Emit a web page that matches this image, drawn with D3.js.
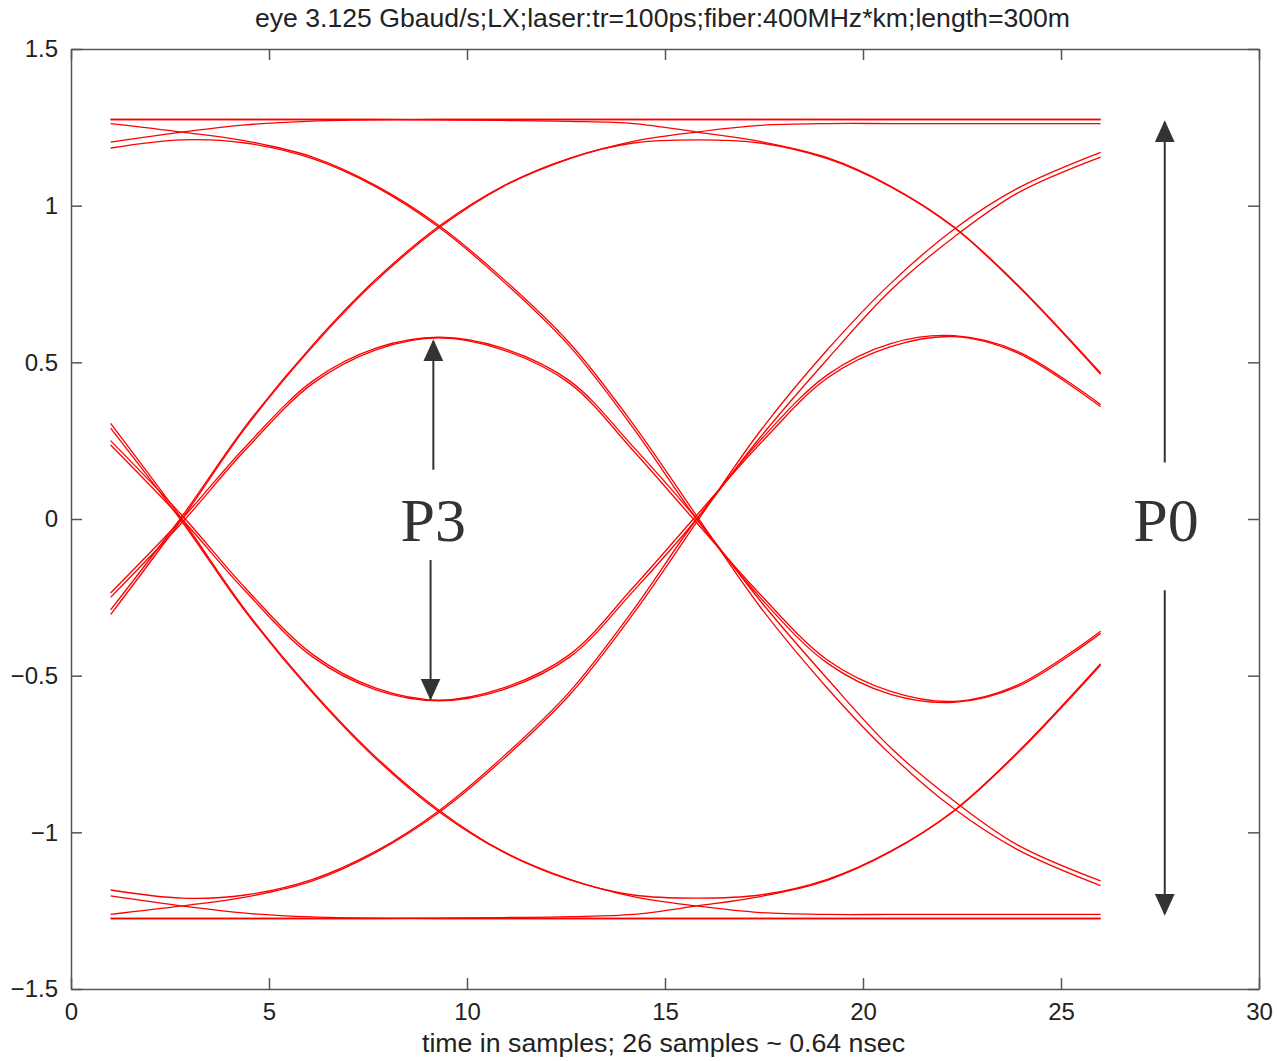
<!DOCTYPE html>
<html>
<head>
<meta charset="utf-8">
<script src="https://cdn.jsdelivr.net/npm/d3@7"></script>
<style>
  body { margin: 0; background: #fff; }
  svg { display: block; }
  .tick text { font-family: "Liberation Sans", Arial, sans-serif; }
</style>
</head>
<body>
<div id="eye"></div>
<script>
/* eye diagram, 3.125 Gbaud, traces */

// sample instants (x) shared by every trace
const samples = [1, 2.8, 4.4, 6.1, 7.7, 9.3, 10.9, 12.6, 14.2, 15.8, 17.4, 19.1, 20.7, 22.3, 23.9, 26];

// upper traces
const t1 = [1.275, 1.275, 1.275, 1.275, 1.275, 1.275, 1.275, 1.275, 1.275, 1.275, 1.275, 1.275, 1.275, 1.275, 1.275, 1.275];
const t2 = [1.275, 1.275, 1.275, 1.275, 1.275, 1.274, 1.272, 1.269, 1.262, 1.235, 1.205, 1.153, 1.062, 0.932, 0.748, 0.466];
const t3 = [-0.305, 0, 0.29, 0.55, 0.76, 0.93, 1.06, 1.15, 1.205, 1.235, 1.256, 1.262, 1.262, 1.262, 1.262, 1.262];
const t4 = [-0.29, 0.008, 0.295, 0.555, 0.765, 0.935, 1.062, 1.152, 1.2, 1.21, 1.2, 1.15, 1.06, 0.93, 0.745, 0.462];
const t5 = [1.203, 1.235, 1.258, 1.27, 1.274, 1.275, 1.275, 1.275, 1.275, 1.275, 1.275, 1.275, 1.275, 1.275, 1.275, 1.275];
const t6 = [1.262, 1.235, 1.207, 1.155, 1.064, 0.936, 0.768, 0.56, 0.302, 0.01, -0.28, -0.54, -0.752, -0.925, -1.055, -1.17];
const t7 = [1.184, 1.21, 1.2, 1.15, 1.06, 0.93, 0.76, 0.55, 0.29, 0, -0.25, -0.46, -0.56, -0.585, -0.535, -0.365];
const t8 = [-0.236, 0, 0.23, 0.44, 0.545, 0.58, 0.545, 0.44, 0.23, 0, -0.26, -0.51, -0.73, -0.9, -1.04, -1.155];
const t9 = [-0.25, -0.012, 0.22, 0.432, 0.54, 0.578, 0.54, 0.432, 0.218, -0.012, -0.24, -0.45, -0.55, -0.582, -0.53, -0.358];

// lower traces
const b1 = [-1.275, -1.275, -1.275, -1.275, -1.275, -1.275, -1.275, -1.275, -1.275, -1.275, -1.275, -1.275, -1.275, -1.275, -1.275, -1.275];
const b2 = [-1.275, -1.275, -1.275, -1.275, -1.275, -1.274, -1.272, -1.269, -1.262, -1.235, -1.205, -1.153, -1.062, -0.932, -0.748, -0.466];
const b3 = [0.305, 0, -0.29, -0.55, -0.76, -0.93, -1.06, -1.15, -1.205, -1.235, -1.256, -1.262, -1.262, -1.262, -1.262, -1.262];
const b4 = [0.29, -0.008, -0.295, -0.555, -0.765, -0.935, -1.062, -1.152, -1.2, -1.21, -1.2, -1.15, -1.06, -0.93, -0.745, -0.462];
const b5 = [-1.203, -1.235, -1.258, -1.27, -1.274, -1.275, -1.275, -1.275, -1.275, -1.275, -1.275, -1.275, -1.275, -1.275, -1.275, -1.275];
const b6 = [-1.262, -1.235, -1.207, -1.155, -1.064, -0.936, -0.768, -0.56, -0.302, -0.01, 0.28, 0.54, 0.752, 0.925, 1.055, 1.17];
const b7 = [-1.184, -1.21, -1.2, -1.15, -1.06, -0.93, -0.76, -0.55, -0.29, 0, 0.25, 0.46, 0.56, 0.585, 0.535, 0.365];
const b8 = [0.236, 0, -0.23, -0.44, -0.545, -0.58, -0.545, -0.44, -0.23, 0, 0.26, 0.51, 0.73, 0.9, 1.04, 1.155];
const b9 = [0.25, 0.012, -0.22, -0.432, -0.54, -0.578, -0.54, -0.432, -0.218, 0.012, 0.24, 0.45, 0.55, 0.582, 0.53, 0.358];

const traces = [t1, t2, t3, t4, t5, t6, t7, t8, t9, b1, b2, b3, b4, b5, b6, b7, b8, b9];

// axes
const xTicks = [0, 5, 10, 15, 20, 25, 30];
const yTicks = [-1.5, -1, -0.5, 0, 0.5, 1, 1.5];
const yTickLabels = ["\u22121.5", "\u22121", "\u22120.5", "0", "0.5", "1", "1.5"];

// annotation arrows: [x, yTip, yTail] in data units
const p3Arrows = [[9.15, 0.567, 0.157], [9.08, -0.573, -0.131]];
const p0Arrows = [[27.62, 1.266, 0.18], [27.62, -1.26, -0.227]];
const p3Label = { text: "P3", x: 9.15, y: 0 };
const p0Label = { text: "P0", x: 27.65, y: 0 };

const titleText = "eye 3.125 Gbaud/s;LX;laser:tr=100ps;fiber:400MHz*km;length=300m";
const xLabelText = "time in samples; 26 samples ~ 0.64 nsec";

const width = 1277,
      height = 1061,
      margin = ({ top: 49, right: 18, bottom: 72, left: 71 });

const svg = d3.select("#eye")
    .append("svg")
    .attr("width", width)
    .attr("height", height)
    .attr("viewBox", [0, 0, width, height]);

const x = d3.scaleLinear()
    .domain([0, 30])
    .range([margin.left, width - margin.right]);

const y = d3.scaleLinear()
    .domain([-1.5, 1.5])
    .range([height - margin.bottom, margin.top]);

// traces first, frame on top
const line = d3.line()
    .x((d, i) => x(samples[i]))
    .y(d => y(d))
    .curve(d3.curveCatmullRom.alpha(0.5));

svg.append("g")
    .selectAll("path")
    .data(traces)
    .join("path")
    .attr("d", line)
    .attr("fill", "none")
    .attr("stroke", "#ff0000")
    .attr("stroke-width", 1.3);

// box with inward ticks on all sides
const tick = 11;
const fmtY = d => yTickLabels[yTicks.indexOf(d)];

const gx = svg.append("g")
    .attr("transform", `translate(0,${height - margin.bottom})`)
    .call(d3.axisBottom(x).tickValues(xTicks).tickSizeInner(-tick).tickSizeOuter(0).tickPadding(14));
svg.append("g")
    .attr("transform", `translate(0,${margin.top})`)
    .call(d3.axisTop(x).tickValues(xTicks).tickSizeInner(-tick).tickSizeOuter(0).tickFormat(""));
const gy = svg.append("g")
    .attr("transform", `translate(${margin.left},0)`)
    .call(d3.axisLeft(y).tickValues(yTicks).tickFormat(fmtY).tickSizeInner(-tick).tickSizeOuter(0).tickPadding(13));
svg.append("g")
    .attr("transform", `translate(${width - margin.right},0)`)
    .call(d3.axisRight(y).tickValues(yTicks).tickSizeInner(-tick).tickSizeOuter(0).tickFormat(""));

svg.selectAll(".domain, .tick line")
    .attr("stroke", "#555")
    .attr("stroke-width", 1.5);

gx.selectAll(".tick text").attr("font-size", 24).attr("fill", "#222");
gy.selectAll(".tick text").attr("font-size", 24).attr("fill", "#222");

svg.append("text")
    .attr("x", 255)
    .attr("y", 27)
    .attr("textLength", 815)
    .attr("lengthAdjust", "spacingAndGlyphs")
    .attr("font-family", "Liberation Sans, Arial, sans-serif")
    .attr("font-size", 25)
    .attr("fill", "#222")
    .text(titleText);

svg.append("text")
    .attr("x", 422)
    .attr("y", 1052)
    .attr("textLength", 483)
    .attr("lengthAdjust", "spacingAndGlyphs")
    .attr("font-family", "Liberation Sans, Arial, sans-serif")
    .attr("font-size", 25)
    .attr("fill", "#222")
    .text(xLabelText);

// arrows
const defs = svg.append("defs");
defs.append("marker")
    .attr("id", "head")
    .attr("viewBox", "0 0 22 20")
    .attr("refX", 20)
    .attr("refY", 10)
    .attr("markerUnits", "userSpaceOnUse")
    .attr("markerWidth", 22)
    .attr("markerHeight", 20)
    .attr("orient", "auto")
    .append("path")
    .attr("d", "M0,0 L22,10 L0,20 Z")
    .attr("fill", "#333");

svg.append("g")
    .selectAll("line")
    .data(p3Arrows.concat(p0Arrows))
    .join("line")
    .attr("x1", d => x(d[0]))
    .attr("x2", d => x(d[0]))
    .attr("y1", d => y(d[2]))
    .attr("y2", d => y(d[1]))
    .attr("stroke", "#333")
    .attr("stroke-width", 2)
    .attr("marker-end", "url(#head)");

svg.append("g")
    .selectAll("text")
    .data([p3Label, p0Label])
    .join("text")
    .attr("x", d => x(d.x))
    .attr("y", d => y(d.y))
    .attr("dy", "0.35em")
    .attr("text-anchor", "middle")
    .attr("font-family", "Liberation Serif, Times New Roman, serif")
    .attr("font-size", 62)
    .attr("fill", "#333")
    .text(d => d.text);
</script>
</body>
</html>
